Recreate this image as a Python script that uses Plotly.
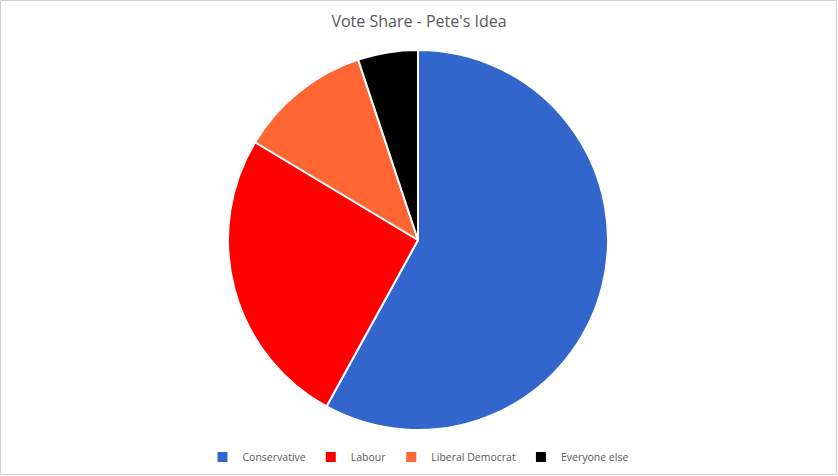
import plotly.graph_objects as go

parties = ["Conservative", "Labour", "Liberal Democrat", "Everyone else"]
shares = [58.0, 25.6, 11.3, 5.1]
colors = ["#3366CC", "#FF0000", "#FF6633", "#000000"]

W, H = 838, 476
mt, mb = 50, 46
ph = H - mt - mb

fig = go.Figure(go.Pie(
    labels=parties, values=shares, sort=False, direction="clockwise",
    rotation=0, textinfo="none", hoverinfo="label+percent",
    marker=dict(colors=colors, line=dict(color="#FFFFFF", width=2)),
))
fig.update_layout(
    width=W, height=H,
    margin=dict(l=0, r=2, t=mt, b=mb),
    paper_bgcolor="white", plot_bgcolor="white",
    font=dict(family="Open Sans, Calibri, sans-serif", color="#595959"),
    title=dict(text="Vote Share - Pete's Idea", x=0.5, xanchor="center",
               y=1 - 21 / H, yanchor="middle",
               font=dict(size=16, color="#595959")),
    legend=dict(orientation="h", x=0.5, xanchor="center", y=-(457 - (H - mb)) / ph,
                yanchor="middle", font=dict(size=10.5, color="#595959"),
                itemwidth=30, traceorder="normal"),
    shapes=[dict(type="rect", xref="paper", yref="paper",
                 x0=0.5 / (W - 2), x1=(W - 1.5) / (W - 2),
                 y0=-(mb - 1.5) / ph, y1=1 + (mt - 0.5) / ph,
                 line=dict(color="#D0D0D0", width=1), layer="below")],
)
fig.write_html("out.html", config={"displayModeBar": False},
               post_script="document.body.style.margin='0';document.body.style.overflow='hidden';")
